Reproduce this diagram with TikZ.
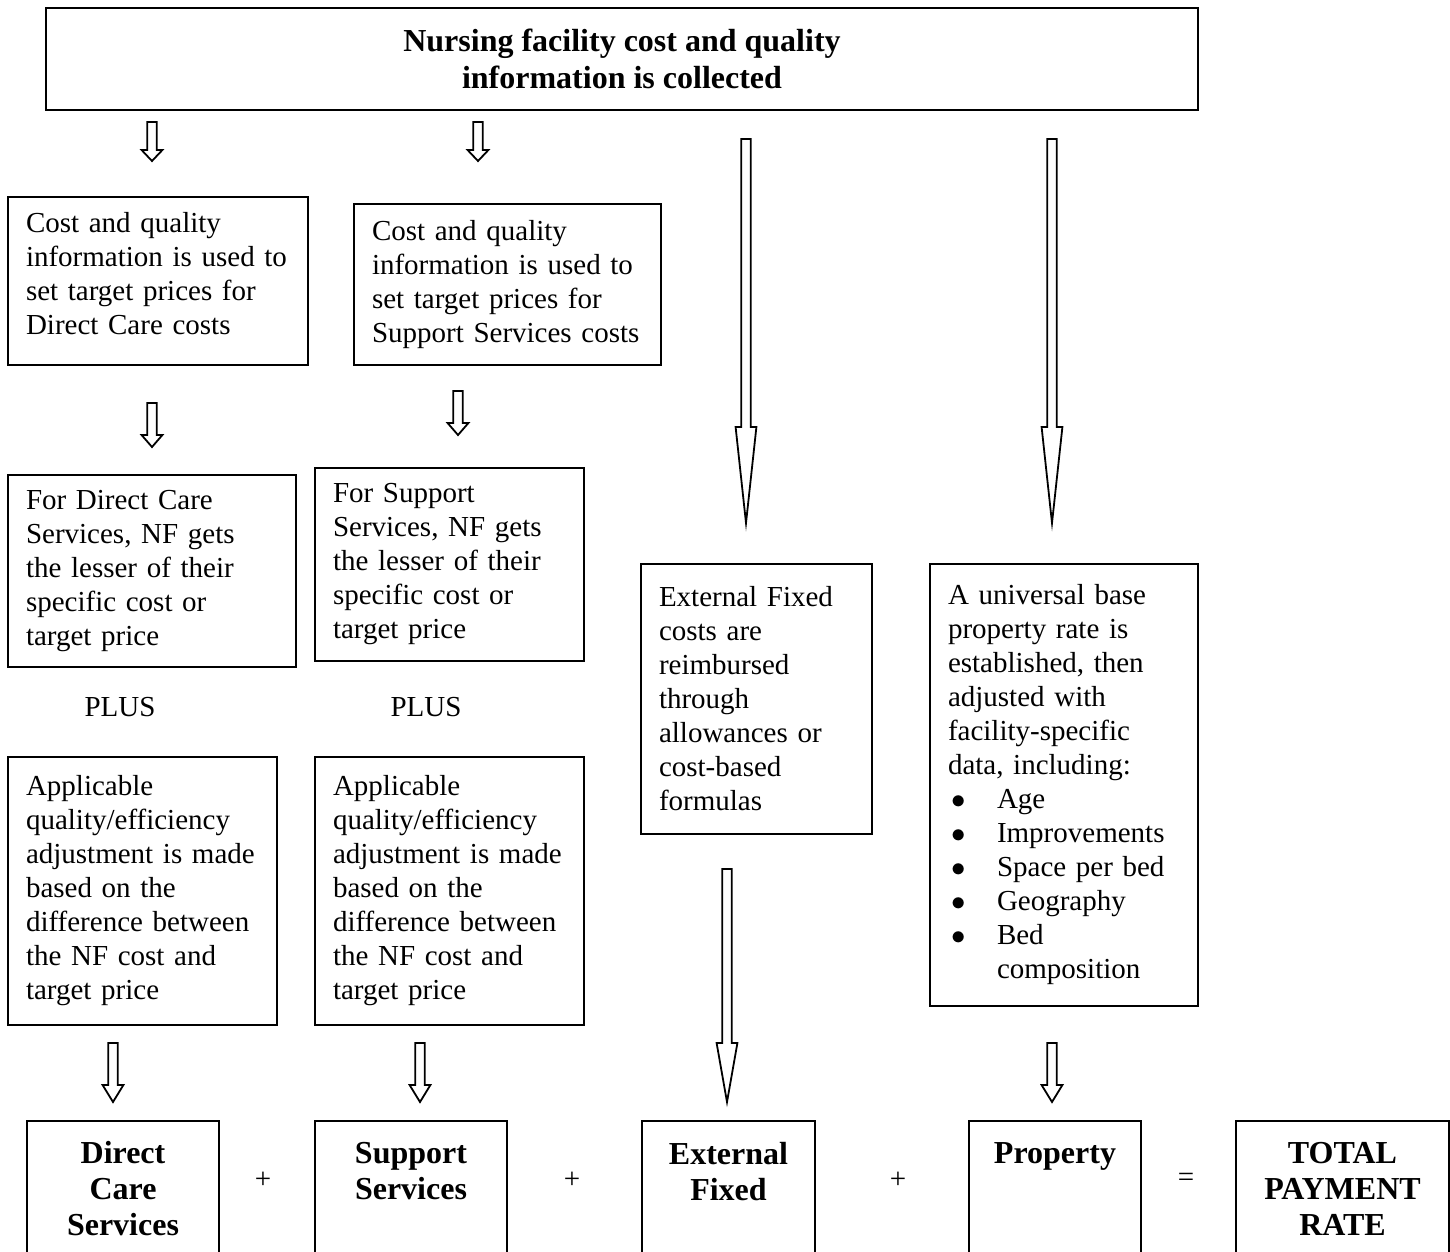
\documentclass[tikz,border=0pt]{standalone}
\usepackage{fontspec}
\setmainfont{Liberation Serif}
\usetikzlibrary{calc}
\newcommand{\listdot}{\makebox[24.5pt][l]{\hspace{1.5pt}$\bullet$}}

\begin{document}
\begin{tikzpicture}[
x=0.5pt, y=-0.5pt,
titlebox/.style={rectangle, draw, line width=1pt, anchor=north west, minimum width=576pt, minimum height=51pt, align=center, font=\bfseries\fontsize{16}{18.5}\selectfont},
infobox/.style={rectangle, draw, line width=1pt, anchor=north west, inner xsep=9pt, inner ysep=0pt, align=left, font=\fontsize{14.5}{17}\selectfont},
sumbox/.style={rectangle, draw, line width=1pt, anchor=north west, minimum height=68pt, inner sep=0pt, align=center, font=\bfseries\fontsize{16}{18}\selectfont},
plaintext/.style={font=\fontsize{14.5}{17}\selectfont},
blockarrow/.style={draw, line width=0.9pt, to path={let \p1=(\tikztostart), \p2=(\tikztotarget) in
  (\x1-2.4pt,\y1) -- (\x1-2.4pt,\y2+#1) -- (\x1-5.2pt,\y2+#1) -- (\x2,\y2)
  -- (\x1+5.2pt,\y2+#1) -- (\x1+2.4pt,\y2+#1) -- (\x1+2.4pt,\y1) -- cycle}},
]
\useasboundingbox (0,0) rectangle (1450,1252);
\clip (0,0) rectangle (1450,1252);

%Nodes
\node[titlebox] (collect) at (45,7) {Nursing facility cost and quality\\information is collected};

\node[infobox, minimum width=150pt, minimum height=84pt, text width=132pt, text depth=59pt] (dcprice) at (7,196)
  {Cost and quality\\information is used to\\set target prices for\\Direct Care costs};
\node[infobox, minimum width=153.5pt, minimum height=80.5pt, text width=135.5pt] (ssprice) at (353,203)
  {Cost and quality\\information is used to\\set target prices for\\Support Services costs};

\node[infobox, minimum width=144pt, minimum height=96pt, text width=126pt] (dcless) at (7,474)
  {For Direct Care\\Services, NF gets\\the lesser of their\\specific cost or\\target price};
\node[infobox, minimum width=134.5pt, minimum height=96.5pt, text width=116.5pt] (ssless) at (314,467)
  {For Support\\Services, NF gets\\the lesser of their\\specific cost or\\target price};

\node[plaintext] (plusA) at (120,707) {PLUS};
\node[plaintext] (plusB) at (426,707) {PLUS};

\node[infobox, minimum width=134.5pt, minimum height=134pt, text width=116.5pt] (dcadj) at (7,756)
  {Applicable\\quality/efficiency\\adjustment is made\\based on the\\difference between\\the NF cost and\\target price};
\node[infobox, minimum width=134.5pt, minimum height=134pt, text width=116.5pt] (ssadj) at (314,756)
  {Applicable\\quality/efficiency\\adjustment is made\\based on the\\difference between\\the NF cost and\\target price};

\node[infobox, minimum width=115.5pt, minimum height=135pt, text width=97.5pt] (extfixed) at (640,563)
  {External Fixed\\costs are\\reimbursed\\through\\allowances or\\cost-based\\formulas};
\node[infobox, minimum width=134pt, minimum height=221pt, text width=116pt] (property) at (929,563)
  {A universal base\\property rate is\\established, then\\adjusted with\\facility-specific\\data, including:\\
   \listdot Age\\\listdot Improvements\\\listdot Space per bed\\\listdot Geography\\\listdot Bed\\\hspace*{24.5pt}composition};

\node[sumbox, minimum width=96pt] (dcsum) at (26,1120) {Direct\\Care\\Services};
\node[sumbox, minimum width=96pt] (sssum) at (314,1120) {Support\\Services\\\mbox{}};
\node[sumbox, minimum width=86.5pt] (efsum) at (641,1120) {External\\Fixed\\\mbox{}};
\node[sumbox, minimum width=86pt] (prsum) at (968,1120) {Property\\\mbox{}\\\mbox{}};
\node[sumbox, minimum width=106.5pt] (total) at (1235,1120) {TOTAL\\PAYMENT\\RATE};

\node[plaintext] (addA) at (263,1180) {+};
\node[plaintext] (addB) at (572,1180) {+};
\node[plaintext] (addC) at (898,1180) {+};
\node[plaintext] (equals) at (1186,1180) {=};

%Arrow ends
\coordinate (dcin) at (152,122);   \coordinate (dcinend) at (152,161);
\coordinate (ssin) at (478,122);   \coordinate (ssinend) at (478,161);
\coordinate (efin) at (746,139);   \coordinate (efinend) at (746,523);
\coordinate (prin) at (1052,139);  \coordinate (prinend) at (1052,523);
\coordinate (dcmid) at (152,403);  \coordinate (dcmidend) at (152,447);
\coordinate (ssmid) at (458,391);  \coordinate (ssmidend) at (458,435);
\coordinate (dcout) at (113,1043); \coordinate (dcoutend) at (113,1102);
\coordinate (ssout) at (420,1043); \coordinate (ssoutend) at (420,1102);
\coordinate (efout) at (727,869);  \coordinate (efoutend) at (727,1102);
\coordinate (prout) at (1052,1043);\coordinate (proutend) at (1052,1102);

%Lines
\draw[blockarrow=5.5pt] (dcin) to (dcinend);
\draw[blockarrow=5.5pt] (ssin) to (ssinend);
\draw[blockarrow=48pt] (efin) to (efinend);
\draw[blockarrow=48pt] (prin) to (prinend);
\draw[blockarrow=6pt] (dcmid) to (dcmidend);
\draw[blockarrow=6pt] (ssmid) to (ssmidend);
\draw[blockarrow=8.5pt] (dcout) to (dcoutend);
\draw[blockarrow=8.5pt] (ssout) to (ssoutend);
\draw[blockarrow=29.5pt] (efout) to (efoutend);
\draw[blockarrow=8.5pt] (prout) to (proutend);
\end{tikzpicture}
\end{document}
